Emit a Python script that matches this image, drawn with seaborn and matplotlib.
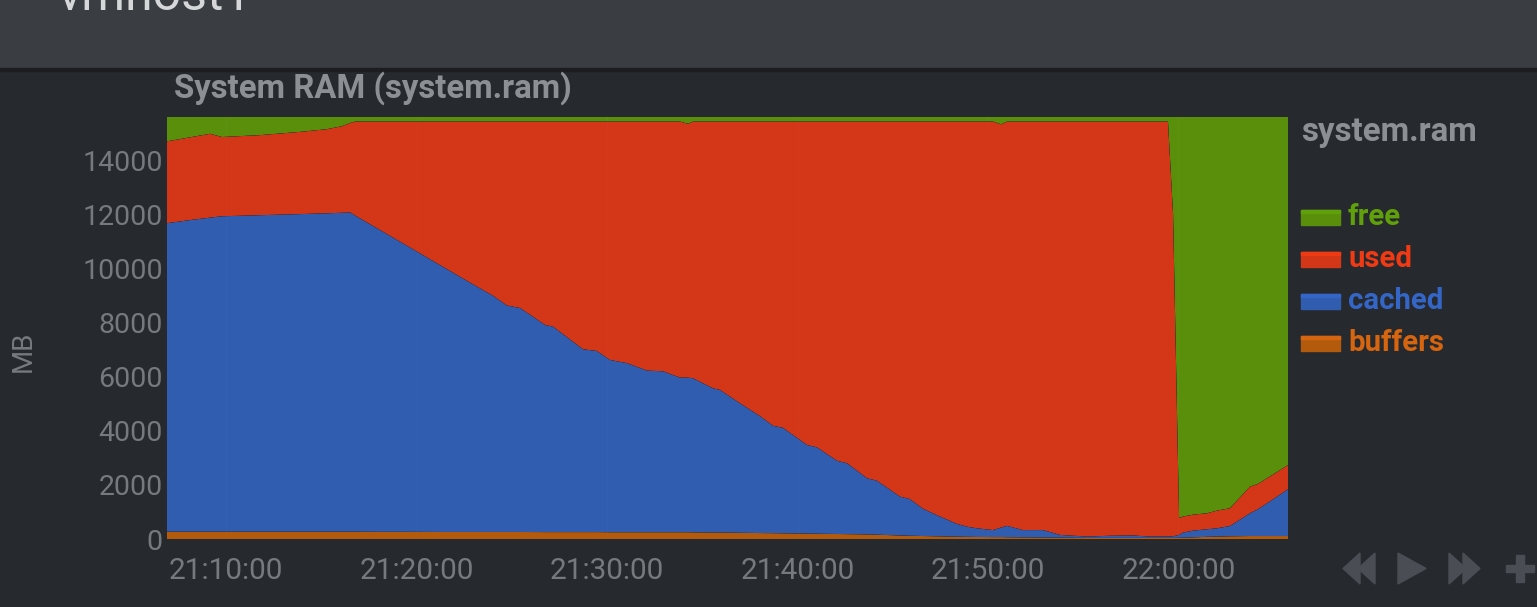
import numpy as np
import pandas as pd
import matplotlib
matplotlib.use("Agg")
import matplotlib.pyplot as plt
import matplotlib.dates as mdates
from matplotlib.patches import Rectangle, Polygon
import seaborn as sns
import seaborn.objects as so

# ---------------- data (MB) ----------------
times = ["21:06:54", "21:08:07", "21:09:10", "21:09:47", "21:11:47", "21:13:53", "21:15:18", "21:16:05",
         "21:16:31", "21:16:46", "21:18:05", "21:19:40", "21:21:14", "21:22:48", "21:24:01", "21:24:45",
         "21:25:26", "21:26:45", "21:27:10", "21:28:44", "21:29:28", "21:30:09", "21:31:03", "21:32:06",
         "21:32:56", "21:33:50", "21:34:15", "21:34:31", "21:35:34", "21:35:56", "21:36:59", "21:38:02",
         "21:38:43", "21:39:14", "21:40:30", "21:41:01", "21:42:04", "21:42:36", "21:43:39", "21:44:10",
         "21:45:23", "21:45:54", "21:46:35", "21:47:19", "21:48:22", "21:48:54", "21:49:25", "21:50:16",
         "21:50:41", "21:51:00", "21:51:50", "21:52:53", "21:53:47", "21:55:12", "21:56:24", "21:57:37",
         "21:58:30", "21:59:27", "21:59:43", "22:00:02", "22:00:14", "22:00:46", "22:01:30", "22:02:01",
         "22:02:42", "22:03:45", "22:04:10", "22:04:39", "22:05:45"]

buffers = [270, 270, 270, 270, 270, 270, 270, 270, 270, 270, 265, 265, 260, 260, 260, 260,
           260, 255, 255, 255, 255, 250, 250, 250, 250, 250, 250, 245, 240, 240, 230, 220,
           215, 210, 200, 195, 185, 180, 170, 160, 130, 120, 110, 100, 85, 80, 75, 70,
           70, 65, 60, 55, 50, 40, 40, 40, 40, 40, 40, 45, 50, 60, 80, 90,
           100, 110, 110, 110, 110]

cached = [11405, 11520, 11610, 11660, 11700, 11740, 11770, 11790, 11800, 11690, 11155, 10505, 9865, 9220, 8730, 8370,
          8280, 7655, 7595, 6760, 6695, 6370, 6250, 5975, 5950, 5715, 5715, 5695, 5330, 5270, 4785, 4320,
          3970, 3900, 3275, 3195, 2710, 2620, 2075, 1995, 1435, 1355, 1010, 780, 475, 375, 320, 260,
          350, 420, 270, 275, 100, 50, 80, 90, 50, 50, 60, 105, 185, 250, 280, 305,
          380, 840, 990, 1210, 1730]

used = [3025, 3060, 3100, 2930, 2960, 3040, 3110, 3200, 3310, 3470, 4010, 4660, 5305, 5950, 6440, 6800,
        6890, 7520, 7580, 8415, 8480, 8810, 8930, 9205, 9230, 9465, 9385, 9490, 9860, 9920, 10415, 10890,
        11245, 11320, 11955, 12040, 12535, 12630, 13185, 13275, 13865, 13955, 14310, 14550, 14870, 14975, 15035, 15100,
        14910, 14945, 15100, 15100, 15280, 15340, 15310, 15300, 15340, 15340, 11900, 630, 595, 590, 590, 655,
        655, 985, 935, 925, 895]

free = [900, 750, 620, 740, 670, 550, 450, 340, 220, 170, 170, 170, 170, 170, 170, 170,
        170, 170, 170, 170, 170, 170, 170, 170, 170, 170, 250, 170, 170, 170, 170, 170,
        170, 170, 170, 170, 170, 170, 170, 170, 170, 170, 170, 170, 170, 170, 170, 170,
        270, 170, 170, 170, 170, 170, 170, 170, 170, 170, 3600, 14820, 14770, 14700, 14650, 14550,
        14465, 13665, 13565, 13355, 12865]

stack_order = ["buffers", "cached", "used", "free"]          # bottom -> top
legend_order = ["free", "used", "cached", "buffers"]
yticks = [0, 2000, 4000, 6000, 8000, 10000, 12000, 14000]
xtick_labels = ["21:10:00", "21:20:00", "21:30:00", "21:40:00", "21:50:00", "22:00:00"]

chart_title = "System RAM (system.ram)"
legend_title = "system.ram"
host_name = "vmhost1"
y_unit = "MB"

# ---------------- styling ----------------
BG = "#26292e"
HEADER = "#3a3e43"
TICK_C = "#76797e"
TITLE_C = "#8c9095"
area_colors = {"free": "#5a8f0b", "used": "#d33718", "cached": "#315db0", "buffers": "#b35a0d"}
text_colors = {"free": "#5fa00b", "used": "#f03a14", "cached": "#3466c8", "buffers": "#d6650f"}

W, H = 1537, 607

def fx(px):
    return px / W

def fy(py):
    return 1 - py / H

sns.set_theme(style="dark", rc={"axes.facecolor": BG, "figure.facecolor": BG})
plt.rcParams["font.family"] = ["Roboto", "DejaVu Sans"]

date0 = "2024-01-01 "
series = {"buffers": buffers, "cached": cached, "used": used, "free": free}
frames = []
for name in stack_order:
    frames.append(pd.DataFrame({"time": pd.to_datetime([date0 + t for t in times]),
                                "MB": series[name], "dimension": name}))
df = pd.concat(frames, ignore_index=True)

fig = plt.figure(figsize=(W / 100, H / 100), dpi=100, facecolor=BG)
ax = fig.add_axes([fx(167), fy(539), fx(1288) - fx(167), fy(117) - fy(539)])
ax.set_facecolor(BG)

theme_rc = {"axes.facecolor": BG, "figure.facecolor": BG, "font.family": ["Roboto", "DejaVu Sans"],
            "xtick.color": TICK_C, "ytick.color": TICK_C, "axes.edgecolor": BG}
(
    so.Plot(df, x="time", y="MB", color="dimension")
    .add(so.Area(alpha=1, edgewidth=0), so.Stack(), legend=False)
    .scale(color=so.Nominal(area_colors, order=stack_order))
    .theme(theme_rc)
    .on(ax)
    .plot()
)

total = np.array(buffers) + np.array(cached) + np.array(used) + np.array(free)
ax.set_xlim(df["time"].min(), df["time"].max())
ax.set_ylim(0, total.max())
ax.set_yticks(yticks)
ax.set_yticklabels([str(v) for v in yticks])
xt = mdates.date2num(pd.to_datetime([date0 + t for t in xtick_labels]))
ax.set_xticks(xt)
ax.set_xticklabels(xtick_labels)
ax.set_xlabel("")
ax.set_ylabel("")
ax.tick_params(axis="both", length=0, colors=TICK_C)
ax.tick_params(axis="y", pad=3, labelsize=20.5)
ax.tick_params(axis="x", pad=13, labelsize=21.4)
for lab in ax.get_xticklabels() + ax.get_yticklabels():
    lab.set_color(TICK_C)
    lab.set_fontfamily(["Roboto", "DejaVu Sans"])
for s in ax.spines.values():
    s.set_visible(False)
ax.grid(True, axis="x", color="#ffffff", alpha=0.018, linewidth=1)
ax.grid(False, axis="y")
ax.set_axisbelow(False)

# ---------------- header / decorations ----------------
fig.add_artist(Rectangle((0, fy(68)), 1, 68 / H, transform=fig.transFigure, color=HEADER, zorder=0))
fig.add_artist(Rectangle((0, fy(71)), 1, 3 / H, transform=fig.transFigure, color="#1b1d20", zorder=0))
fig.text(fx(57), fy(10), host_name, fontsize=36, color="#d6d7d9", va="baseline", ha="left")

fig.text(fx(174), fy(98), chart_title, fontsize=23.7, fontweight="bold", color=TITLE_C,
         va="baseline", ha="left")
fig.text(fx(23.5), fy(351), y_unit, fontsize=20, color=TICK_C, rotation=90, va="center", ha="center")

# legend
fig.text(fx(1301), fy(141), legend_title, fontsize=23.8, fontweight="bold", color=TITLE_C,
         va="baseline", ha="left")
for i, name in enumerate(legend_order):
    top = 210 + 42 * i
    fig.add_artist(Rectangle((fx(1301), fy(top + 15)), fx(1340) - fx(1301), 15 / H,
                             transform=fig.transFigure, color=area_colors[name], zorder=2))
    fig.add_artist(Rectangle((fx(1301), fy(top + 3)), fx(1340) - fx(1301), 3 / H,
                             transform=fig.transFigure, color=text_colors[name], zorder=3))
    fig.text(fx(1348), fy(top + 15), name, fontsize=21.2, fontweight="bold", color=text_colors[name],
             va="baseline", ha="left")

# navigation icons
ICON = "#4a4e54"
def tri(pts):
    fig.add_artist(Polygon([(fx(a), fy(b)) for a, b in pts], closed=True,
                           transform=fig.transFigure, color=ICON, zorder=2))
tri([(1343, 568.5), (1360, 553), (1360, 584)])
tri([(1358, 568.5), (1375, 553), (1375, 584)])
tri([(1398, 553), (1398, 584), (1426, 568.5)])
tri([(1449, 553), (1449, 584), (1466, 568.5)])
tri([(1463, 553), (1463, 584), (1480, 568.5)])
fig.add_artist(Rectangle((fx(1506), fy(572)), fx(1534) - fx(1506), 7 / H, transform=fig.transFigure,
                         color=ICON, zorder=2))
fig.add_artist(Rectangle((fx(1516), fy(582)), fx(1524) - fx(1516), 27 / H, transform=fig.transFigure,
                         color=ICON, zorder=2))

fig.savefig("out.png", dpi=100, facecolor=BG)
